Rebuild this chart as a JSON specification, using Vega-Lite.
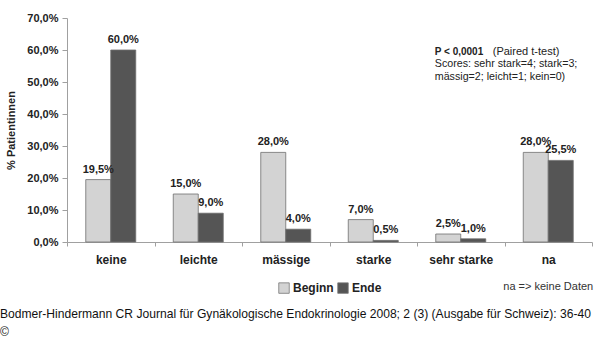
{
  "$schema": "https://vega.github.io/schema/vega-lite/v6.json",
  "width": 525,
  "height": 224,
  "autosize": {"type": "none"},
  "padding": {"left": 67, "top": 18, "right": 8, "bottom": 121},
  "background": "white",
  "config": {
    "locale": {"number": {"decimal": ",", "thousands": ".", "grouping": [3], "currency": ["", " €"]}},
    "view": {"stroke": null},
    "font": "Liberation Sans",
    "text": {"font": "Liberation Sans"}
  },
  "title": {
    "text": ["Bodmer-Hindermann CR Journal für Gynäkologische Endokrinologie 2008; 2 (3) (Ausgabe für Schweiz): 36-40", "©"],
    "orient": "bottom",
    "anchor": "start",
    "frame": "group",
    "dx": -67,
    "offset": 13,
    "fontSize": 12.1,
    "fontWeight": "normal",
    "font": "Liberation Sans",
    "color": "#111",
    "lineHeight": 18
  },
  "encoding": {
    "x": {
      "field": "Kategorie", "type": "nominal",
      "scale": {"domain": ["keine", "leichte", "mässige", "starke", "sehr starke", "na"], "paddingInner": 0, "paddingOuter": 0},
      "axis": {
        "title": null, "labelAngle": 0, "tickBand": "extent",
        "domainColor": "#a0a0a0", "tickColor": "#a0a0a0", "tickSize": 4,
        "labelFont": "Liberation Sans", "labelFontSize": 12, "labelFontWeight": "bold", "labelColor": "#222",
        "labelPadding": 8
      }
    },
    "y": {
      "field": "Anteil", "type": "quantitative",
      "scale": {"domain": [0, 0.7], "nice": false},
      "axis": {
        "values": [0, 0.1, 0.2, 0.3, 0.4, 0.5, 0.6, 0.7],
        "format": ".1%",
        "grid": false,
        "labelOverlap": false,
        "labelBound": false,
        "domainColor": "#a0a0a0", "tickColor": "#a0a0a0", "tickSize": 5,
        "labelFont": "Liberation Sans", "labelFontSize": 11, "labelFontWeight": "bold", "labelColor": "#222",
        "labelPadding": 4,
        "title": "% Patientinnen",
        "titleFont": "Liberation Sans", "titleFontSize": 11, "titleFontWeight": "bold", "titleColor": "#222",
        "titlePadding": 10
      }
    }
  },
  "layer": [
    {
      "data": {"values": [
        {"Kategorie": "keine", "Zeitpunkt": "Beginn", "Anteil": 0.195},
        {"Kategorie": "keine", "Zeitpunkt": "Ende", "Anteil": 0.60},
        {"Kategorie": "leichte", "Zeitpunkt": "Beginn", "Anteil": 0.15},
        {"Kategorie": "leichte", "Zeitpunkt": "Ende", "Anteil": 0.09},
        {"Kategorie": "mässige", "Zeitpunkt": "Beginn", "Anteil": 0.28},
        {"Kategorie": "mässige", "Zeitpunkt": "Ende", "Anteil": 0.04},
        {"Kategorie": "starke", "Zeitpunkt": "Beginn", "Anteil": 0.07},
        {"Kategorie": "starke", "Zeitpunkt": "Ende", "Anteil": 0.005},
        {"Kategorie": "sehr starke", "Zeitpunkt": "Beginn", "Anteil": 0.025},
        {"Kategorie": "sehr starke", "Zeitpunkt": "Ende", "Anteil": 0.01},
        {"Kategorie": "na", "Zeitpunkt": "Beginn", "Anteil": 0.28},
        {"Kategorie": "na", "Zeitpunkt": "Ende", "Anteil": 0.255}
      ]},
      "encoding": {
        "xOffset": {"field": "Zeitpunkt", "type": "nominal", "scale": {"paddingOuter": 0.75, "paddingInner": 0}}
      },
      "layer": [
        {
          "mark": {"type": "bar", "stroke": "#6e6e6e", "strokeWidth": 0.8},
          "encoding": {
            "color": {
              "field": "Zeitpunkt", "type": "nominal",
              "scale": {"domain": ["Beginn", "Ende"], "range": ["#d3d3d3", "#555555"]},
              "legend": {
                "orient": "none", "legendX": 211, "legendY": 264,
                "direction": "horizontal", "title": null,
                "symbolType": "square", "symbolSize": 110, "symbolStrokeColor": "#777", "symbolStrokeWidth": 0.8,
                "labelFont": "Liberation Sans", "labelFontSize": 12, "labelFontWeight": "bold", "labelColor": "#222",
                "columnPadding": 2, "labelOffset": 3
              }
            }
          }
        },
        {
          "mark": {"type": "text", "baseline": "bottom", "dy": -5, "fontSize": 11, "fontWeight": "bold", "color": "#222", "font": "Liberation Sans"},
          "encoding": {
            "text": {"field": "Anteil", "type": "quantitative", "format": ".1%"}
          }
        }
      ]
    },
    {
      "data": {"values": [
        {"Kategorie": "sehr starke", "Anteil": 0.594, "Text": "P < 0,0001", "Zeile": 1},
        {"Kategorie": "sehr starke", "Anteil": 0.594, "Text": "(Paired t-test)", "Zeile": 2},
        {"Kategorie": "sehr starke", "Anteil": 0.555, "Text": "Scores: sehr stark=4; stark=3;", "Zeile": 3},
        {"Kategorie": "sehr starke", "Anteil": 0.517, "Text": "mässig=2; leicht=1; kein=0)", "Zeile": 3}
      ]},
      "encoding": {
        "text": {"field": "Text"}
      },
      "layer": [
        {
          "transform": [{"filter": "datum.Zeile == 1"}],
          "mark": {"type": "text", "align": "left", "baseline": "middle", "dx": -26, "fontSize": 10, "fontWeight": "bold", "color": "#222", "font": "Liberation Sans"}
        },
        {
          "transform": [{"filter": "datum.Zeile == 2"}],
          "mark": {"type": "text", "align": "left", "baseline": "middle", "dx": 32, "fontSize": 11, "color": "#222", "font": "Liberation Sans"}
        },
        {
          "transform": [{"filter": "datum.Zeile == 3"}],
          "mark": {"type": "text", "align": "left", "baseline": "middle", "dx": -26, "fontSize": 10.7, "color": "#222", "font": "Liberation Sans"}
        }
      ]
    },
    {
      "data": {"values": [{"Kategorie": "na", "Anteil": -0.14, "Text": "na => keine Daten"}]},
      "mark": {"type": "text", "align": "center", "baseline": "middle", "fontSize": 11, "color": "#333", "font": "Liberation Sans", "clip": false},
      "encoding": {
        "text": {"field": "Text"}
      }
    }
  ]
}
